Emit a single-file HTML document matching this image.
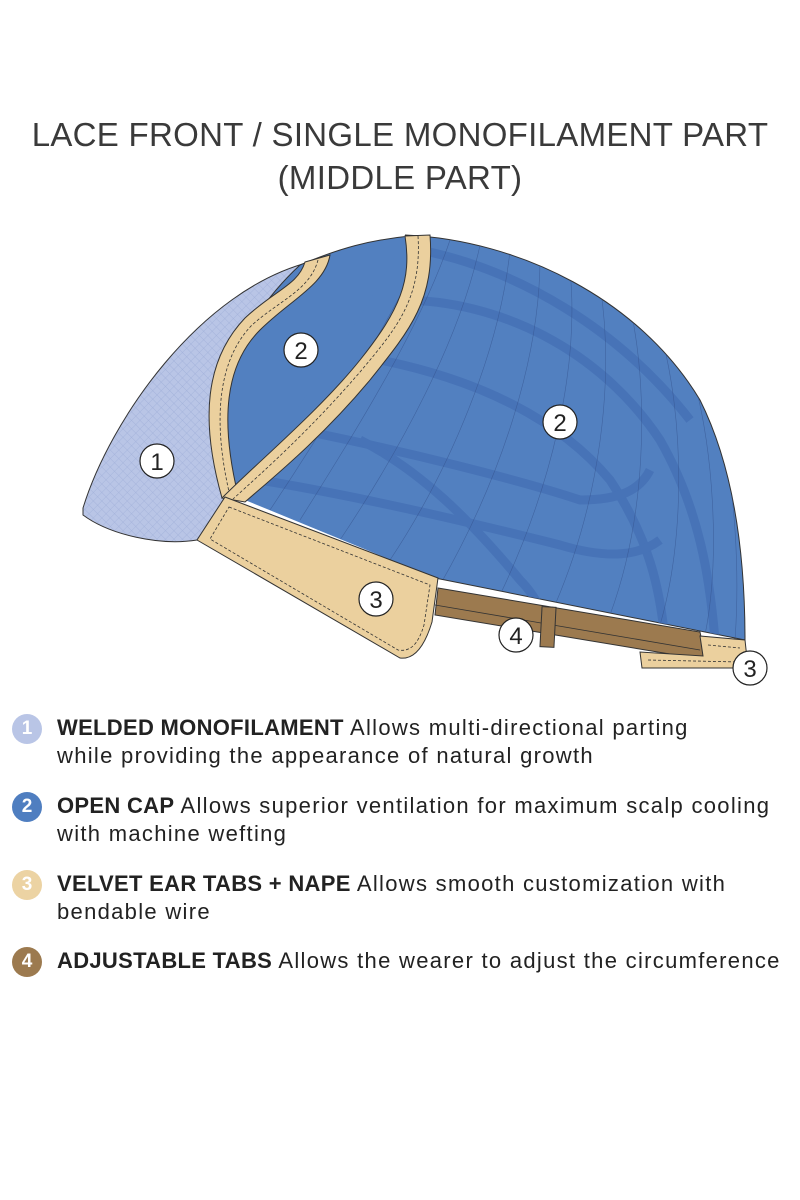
<!DOCTYPE html>
<html><head><meta charset="utf-8"><style>
body{margin:0;background:#fff;width:800px;height:1200px;overflow:hidden;font-family:"Liberation Sans",sans-serif;}
.t{position:absolute;left:0;width:800px;text-align:center;font-size:33px;color:#3a3a3a;letter-spacing:0.3px;}
.l{position:absolute;left:57px;font-size:22px;color:#222;line-height:28px;letter-spacing:1.3px;white-space:nowrap;}
.l b{letter-spacing:0.3px;}
.c{position:absolute;left:12px;width:30px;height:30px;border-radius:50%;color:#fff;font-weight:bold;font-size:19px;text-align:center;line-height:30px;}
</style></head><body>
<div class="t" style="top:116px">LACE FRONT / SINGLE MONOFILAMENT PART</div>
<div class="t" style="top:159px">(MIDDLE PART)</div>
<svg width="800" height="700" style="position:absolute;left:0;top:0">
<defs>
<pattern id="mesh" width="6" height="6" patternUnits="userSpaceOnUse" patternTransform="rotate(45)">
<rect width="6" height="6" fill="#b9c5e6"/><path d="M0 0H6M0 0V6" stroke="#9eaed8" stroke-width="0.7"/></pattern>
<clipPath id="blue"><path d="M240 490 C300 400 360 330 405 235 C520 240 640 300 700 400 C735 470 745 560 745 640 L435 578 L245 500Z"/></clipPath>
</defs>
<path d="M83 508 C110 420 200 290 310 262 L330 258 C280 300 215 370 225 470 L238 495 L197 540 C160 546 110 535 83 515Z" fill="url(#mesh)" stroke="#333" stroke-width="1"/>
<path d="M300 265 C340 248 370 240 410 236 C400 320 300 420 238 495 C200 420 230 330 300 265Z" fill="#5280c0" stroke="#333"/>
<path d="M240 490 C300 400 360 330 405 235 C520 240 640 300 700 400 C735 470 745 560 745 640 L435 578 L245 500Z" fill="#5280c0" stroke="none"/>
<path d="M405 235 C520 240 640 300 700 400 C735 470 745 560 745 640 L435 578" fill="none" stroke="#333"/>
<g clip-path="url(#blue)" fill="none">
<g stroke="#4570b5" stroke-width="9" opacity="0.8">
<path d="M420 250 C520 270 620 330 690 420"/>
<path d="M400 300 C500 300 600 350 660 440 C700 510 710 580 715 640"/>
<path d="M380 360 C480 380 560 420 610 480 C650 540 660 590 665 640"/>
<path d="M300 430 C400 450 520 480 580 500 C620 500 640 490 650 470"/>
<path d="M260 480 C380 500 500 530 560 545 C610 560 640 555 660 540"/>
<path d="M360 440 C420 470 470 520 520 580 C540 600 545 620 550 640"/>
</g>
<g stroke="#34508a" stroke-width="0.6" opacity="0.6">
<path d="M450 240 C420 330 350 440 300 520"/><path d="M480 245 C460 340 400 450 340 540"/>
<path d="M510 250 C500 350 450 470 390 560"/><path d="M540 258 C540 360 500 480 440 585"/>
<path d="M570 270 C580 370 550 490 500 595"/><path d="M600 285 C615 380 600 500 555 605"/>
<path d="M630 305 C650 400 645 520 610 615"/><path d="M660 330 C685 420 685 540 660 625"/>
<path d="M690 365 C715 450 720 560 705 635"/><path d="M720 420 C735 490 740 570 735 640"/>
<path d="M430 238 C390 320 330 420 270 510"/>
</g></g>
<path d="M305 262 L330 255 C325 285 290 300 260 330 C225 365 220 420 238 495 L222 498 C200 420 205 360 245 318 C275 290 298 285 305 262Z" fill="#ebd09e" stroke="#333"/>
<path d="M318 260 C310 290 280 300 252 325 C218 360 212 420 230 496" fill="none" stroke="#333" stroke-width="0.8" stroke-dasharray="3 2"/>
<path d="M405 236 L430 235 C435 300 410 330 370 380 C320 440 270 480 245 502 L222 498 C260 460 320 410 360 360 C400 310 412 280 405 236Z" fill="#ebd09e" stroke="#333"/>
<path d="M418 236 C422 300 395 330 360 372 C310 430 265 470 233 499" fill="none" stroke="#333" stroke-width="0.8" stroke-dasharray="3 2"/>
<path d="M438 588 L700 632 L706 660 L435 615Z" fill="#9c7a4f" stroke="#333"/>
<path d="M435 605 L700 650" stroke="#333" stroke-width="0.8"/>
<rect x="541" y="607" width="14" height="40" fill="#9c7a4f" stroke="#333" transform="rotate(3 548 627)"/>
<path d="M700 636 L745 640 L748 668 L642 668 L640 652 L703 656Z" fill="#ebd09e" stroke="#333"/>
<path d="M648 660 L740 662 M708 645 L740 648" stroke="#333" stroke-width="0.8" stroke-dasharray="3 2" fill="none"/>
<path d="M225 497 L438 578 L432 622 C425 645 415 660 400 658 L197 540Z" fill="#ebd09e" stroke="#333"/>
<path d="M229 507 L430 585 L424 625 C418 645 410 652 398 650 L210 539Z" fill="none" stroke="#333" stroke-width="0.8" stroke-dasharray="3 2"/>
<g fill="#fff" stroke="#222" stroke-width="1.2" font-size="24" font-family="Liberation Sans,sans-serif" text-anchor="middle">
<circle cx="157" cy="461" r="17"/><circle cx="301" cy="350" r="17"/><circle cx="560" cy="422" r="17"/>
<circle cx="376" cy="599" r="17"/><circle cx="516" cy="635" r="17"/><circle cx="750" cy="668" r="17"/>
<g fill="#222" stroke="none"><text x="157" y="470">1</text><text x="301" y="359">2</text><text x="560" y="431">2</text>
<text x="376" y="608">3</text><text x="516" y="644">4</text><text x="750" y="677">3</text></g>
</g>
</svg>
<div class="c" style="top:714px;background:#b9c5e6">1</div>
<div class="l" style="top:714px"><b>WELDED MONOFILAMENT</b> Allows multi-directional parting<br>while providing the appearance of natural growth</div>
<div class="c" style="top:792px;background:#4f7ec0">2</div>
<div class="l" style="top:792px"><b>OPEN CAP</b> Allows superior ventilation for maximum scalp cooling<br>with machine wefting</div>
<div class="c" style="top:870px;background:#ecd3a3">3</div>
<div class="l" style="top:870px"><b>VELVET EAR TABS + NAPE</b> Allows smooth customization with<br>bendable wire</div>
<div class="c" style="top:947px;background:#9c7a4f">4</div>
<div class="l" style="top:947px"><b>ADJUSTABLE TABS</b> Allows the wearer to adjust the circumference</div>
</body></html>
